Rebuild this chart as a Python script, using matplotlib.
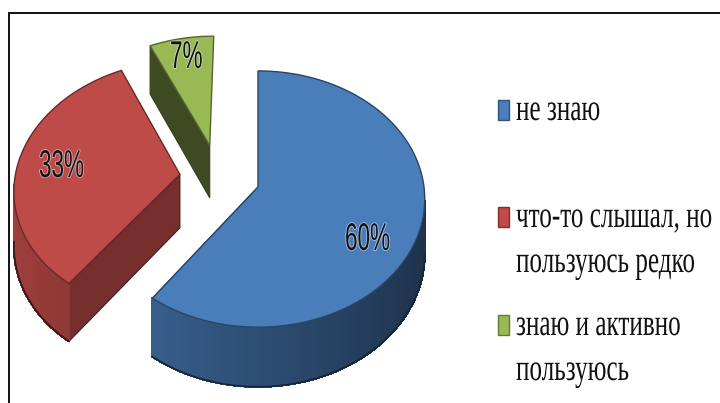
import numpy as np
import matplotlib
matplotlib.use('Agg')
import matplotlib.pyplot as plt
from matplotlib.colors import to_rgb
from matplotlib.collections import PolyCollection
from matplotlib.patches import Polygon, Rectangle
from matplotlib.patheffects import AbstractPathEffect
from matplotlib.transforms import Affine2D

# data
labels = ['не знаю', 'что-то слышал, но\nпользуюсь редко', 'знаю и активно\nпользуюсь']
values = [60, 33, 7]
colors = ['#4a7ebb', '#be4b48', '#98b954']

# layout of the pie in pixels
CX, CY = 258, 187
A, B, K = 166, 127, 0.094
DEPTH = 54
explode = [(0.0, 0.0), (-0.475, 0.10), (-0.30, 0.337)]
visible_cut = [-1, 0, 0]
cut_shade = [0.3, 0.62, 0.4]
label_xy = [(345, 250), (39, 177), (170, 68)]
legend_y = [120, 227, 335]
LINE_GAP = 45


class Tall(AbstractPathEffect):
    # text is narrow and tall in the picture, stretch it up from its baseline
    def __init__(self, sy, halo=None):
        super().__init__()
        self.sy = sy
        self.halo = halo

    def draw_path(self, renderer, gc, tpath, affine, rgbFace):
        tr = Affine2D().scale(1, self.sy) + affine
        if self.halo:
            gc0 = renderer.new_gc()
            gc0.copy_properties(gc)
            gc0.set_foreground(self.halo, isRGBA=False)
            gc0.set_alpha(0.6)
            gc0.set_linewidth(1.2)
            renderer.draw_path(gc0, tpath, tr, None)
            gc0.restore()
        renderer.draw_path(gc, tpath, tr, rgbFace)


def project(u, v, off, z=0.0):
    u = u + off[0]
    v = v + off[1]
    d = 1 + K * v
    return CX + A * u / d, CY - B * v / d + z * DEPTH / d


def shade(col, f):
    return tuple(c * f for c in to_rgb(col))


fig = plt.figure(figsize=(7.2, 4.03), dpi=100)
ax = fig.add_axes([0, 0, 1, 1])
ax.set_xlim(0, 720)
ax.set_ylim(403, 0)
ax.axis('off')

# frame, open to the right and at the bottom
ax.plot([9, 9, 720], [403, 13, 13], color='#111111', lw=1.4, solid_joinstyle='miter')

bounds = np.cumsum([0] + values) / sum(values) * 360
# the far slices first, so the nearer ones stay on top
for i in [2, 1, 0]:
    off = explode[i]
    th = np.radians(np.linspace(bounds[i], bounds[i + 1], 120))
    u, v = np.sin(th), np.cos(th)
    x0, y0 = project(u, v, off)
    x1, y1 = project(u, v, off, 1.0)
    ax0, ay0 = project(0, 0, off)
    ax1, ay1 = project(0, 0, off, 1.0)

    # cut face
    j = visible_cut[i]
    ax.add_patch(Polygon([(ax0, ay0), (x0[j], y0[j]), (x1[j], y1[j]), (ax1, ay1)],
                         fc=shade(colors[i], cut_shade[i]), ec=shade(colors[i], 0.35), lw=0.8))

    # outer rim, only the part that faces the viewer
    quads, cols = [], []
    for j in range(len(th) - 1):
        if v[j] < -K:
            quads.append([(x0[j], y0[j]), (x0[j + 1], y0[j + 1]), (x1[j + 1], y1[j + 1]), (x1[j], y1[j])])
            cols.append(shade(colors[i], 0.62 - 0.22 * u[j]))
    if quads:
        ax.add_collection(PolyCollection(quads, facecolors=cols, edgecolors=cols, linewidths=1.0,
                                         antialiaseds=False))
        keep = v < -K
        ax.plot(x1[keep], y1[keep], color=shade(colors[i], 0.3), lw=1.3)

    # top
    top = [(ax0, ay0)] + list(zip(x0, y0))
    ax.add_patch(Polygon(top, fc=colors[i], ec=shade(colors[i], 0.55), lw=1.0, joinstyle='miter'))

    ax.text(label_xy[i][0], label_xy[i][1], f'{values[i]}%', family='Liberation Sans', fontsize=16.2,
            color='#111111', ha='left', va='baseline',
            path_effects=[Tall(1.72, halo='#e8eef6')])

# legend
for i in range(3):
    ax.add_patch(Rectangle((498, legend_y[i] - 20), 11, 20, fc=colors[i], ec=shade(colors[i], 0.65), lw=1))
    for n, line in enumerate(labels[i].split('\n')):
        ax.text(516, legend_y[i] + n * LINE_GAP, line, family='Liberation Serif', fontsize=18.1,
                color='#111111', ha='left', va='baseline', path_effects=[Tall(1.49)])

fig.savefig('out.png', dpi=100)
